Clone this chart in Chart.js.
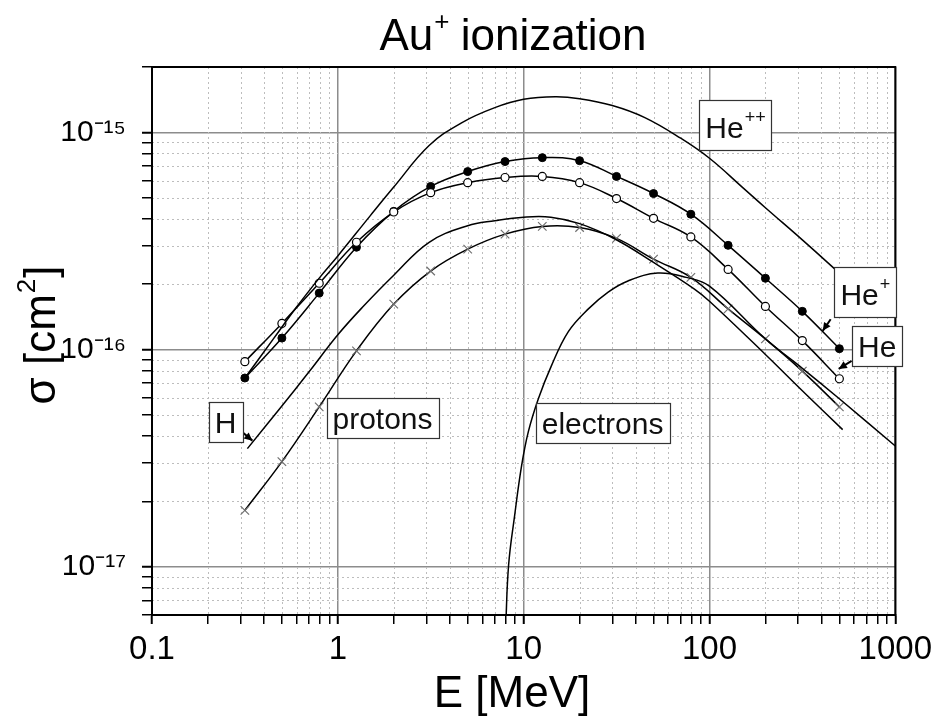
<!DOCTYPE html>
<html>
<head>
<meta charset="utf-8">
<title>Au+ ionization</title>
<script src="https://cdn.jsdelivr.net/npm/chart.js@4.4.1/dist/chart.umd.min.js"></script>
<style>
  html, body { margin: 0; padding: 0; background: #fff; }
</style>
</head>
<body>
<canvas id="chart" width="938" height="724"></canvas>
<script>
// energies (MeV) where the measured points sit
const energyGrid = [0.316, 0.5, 0.794, 1.26, 2, 3.16, 5, 7.94, 12.6, 20, 31.6, 50, 79.4, 126, 200, 316, 500];
const sigmaHePlus = [7.4e-17, 1.13e-16, 1.82e-16, 2.96e-16, 4.33e-16, 5.64e-16, 6.6e-16, 7.34e-16, 7.65e-16, 7.41e-16, 6.27e-16, 5.23e-16, 4.2e-16, 3.02e-16, 2.13e-16, 1.5e-16, 1.01e-16];
const sigmaHe = [8.8e-17, 1.32e-16, 2.02e-16, 3.12e-16, 4.3e-16, 5.28e-16, 5.87e-16, 6.2e-16, 6.27e-16, 5.87e-16, 4.96e-16, 4.02e-16, 3.3e-16, 2.34e-16, 1.58e-16, 1.1e-16, 7.34e-17];
const sigmaProtons = [1.82e-17, 3.05e-17, 5.45e-17, 9.87e-17, 1.62e-16, 2.3e-16, 2.9e-16, 3.4e-16, 3.69e-16, 3.65e-16, 3.25e-16, 2.61e-16, 2.15e-16, 1.54e-16, 1.12e-16, 7.96e-17, 5.45e-17];

// curves without markers
const energyH = [0.326, 0.5, 0.7, 1, 1.36, 2, 3.1, 5, 7, 10, 14, 20, 31, 50, 83, 100, 200, 316, 521];
const sigmaH = [3.5e-17, 5.5e-17, 7.9e-17, 1.17e-16, 1.57e-16, 2.2e-16, 3.12e-16, 3.72e-16, 3.92e-16, 4.07e-16, 4.07e-16, 3.8e-16, 3.23e-16, 2.52e-16, 1.9e-16, 1.67e-16, 9.5e-17, 6.47e-17, 4.28e-17];

const energyHe2 = [0.316, 0.45, 0.6, 0.8, 1, 1.5, 2, 3.1, 4.66, 7, 10, 14.8, 20, 30, 44.9, 70, 100, 150, 200, 316, 500];
const sigmaHe2 = [7.4e-17, 1.12e-16, 1.57e-16, 2.15e-16, 2.7e-16, 4.15e-16, 5.6e-16, 8.7e-16, 1.11e-15, 1.3e-15, 1.42e-15, 1.46e-15, 1.43e-15, 1.33e-15, 1.17e-15, 9.4e-16, 7.6e-16, 5.6e-16, 4.5e-16, 3.2e-16, 2.25e-16];

const energyElec = [8.0, 8.3, 8.95, 9.75, 10.6, 12, 14.1, 17.4, 22.3, 28.5, 36.4, 52.7, 75, 100, 200, 316, 500, 1000];
const sigmaElec = [5.2e-18, 1.02e-17, 1.73e-17, 2.92e-17, 4.19e-17, 5.94e-17, 8.42e-17, 1.21e-16, 1.54e-16, 1.84e-16, 2.07e-16, 2.25e-16, 2.15e-16, 1.96e-16, 1.12e-16, 8.2e-17, 5.94e-17, 3.6e-17];

// axis ticks
const xMajorTicks = [0.1, 1, 10, 100, 1000];
const xTickLabels = ['0.1', '1', '10', '100', '1000'];
const yMajorTicks = [1e-17, 1e-16, 1e-15];
const yTickLabels = ['10\u207B\u00B9\u2077', '10\u207B\u00B9\u2076', '10\u207B\u00B9\u2075'];

// curve labels, anchored in data coordinates (E, sigma)
const labelTexts = ['He', 'He', 'He', 'H', 'protons', 'electrons'];
const labelSups = ['++', '+', '', '', '', ''];
const labelE = [138, 690, 800, 0.249, 1.74, 26.6];
const labelSigma = [1.08e-15, 1.84e-16, 1.04e-16, 4.64e-17, 4.86e-17, 4.58e-17];
const arrowFrom = [[0.299, 4.24e-17], [449, 1.38e-16], [582, 8.87e-17]];
const arrowTo = [[0.347, 3.81e-17], [407, 1.22e-16], [496, 8.15e-17]];

const fontFam = "'Liberation Sans', Arial, Helvetica, sans-serif";

function toPoints(xs, ys) {
    return xs.map((x, i) => ({ x: x, y: ys[i] }));
}

function isDecade(v) {
    const l = Math.log10(v);
    return Math.abs(l - Math.round(l)) < 1e-6;
}

// all ticks 1..9 x 10^n between min and max
function logTicks(min, max) {
    const out = [];
    for (let e = Math.floor(Math.log10(min)); e <= Math.ceil(Math.log10(max)); e++) {
        for (let k = 1; k <= 9; k++) {
            const v = parseFloat((k * Math.pow(10, e)).toPrecision(6));
            if (v >= min * 0.9999 && v <= max * 1.0001) out.push(v);
        }
    }
    return out;
}

// text with an optional superscript part, returns nothing
function drawSupText(ctx, base, sup, x, y, size, supSize, rise, align) {
    ctx.font = size + 'px ' + fontFam;
    const wBase = ctx.measureText(base).width;
    ctx.font = supSize + 'px ' + fontFam;
    const wSup = sup ? ctx.measureText(sup).width + 1 : 0;
    const total = wBase + wSup;
    let x0 = x;
    if (align === 'center') x0 = x - total / 2;
    ctx.textAlign = 'left';
    ctx.textBaseline = 'alphabetic';
    ctx.font = size + 'px ' + fontFam;
    ctx.fillText(base, x0, y);
    if (sup) {
        ctx.font = supSize + 'px ' + fontFam;
        ctx.fillText(sup, x0 + wBase + 1, y - rise);
    }
}

const decorPlugin = {
    id: 'decor',
    beforeDatasetsDraw(chart) {
        // dotted minor grid
        const { ctx, chartArea: a, scales } = chart;
        ctx.save();
        ctx.strokeStyle = '#bdbdbd';
        ctx.lineWidth = 1;
        ctx.setLineDash([2, 3]);
        logTicks(0.1, 1000).filter(v => !isDecade(v)).forEach(v => {
            const px = Math.round(scales.x.getPixelForValue(v)) + 0.5;
            ctx.beginPath(); ctx.moveTo(px, a.top); ctx.lineTo(px, a.bottom); ctx.stroke();
        });
        logTicks(6e-18, 2e-15).filter(v => !isDecade(v)).forEach(v => {
            const py = Math.round(scales.y.getPixelForValue(v)) + 0.5;
            ctx.beginPath(); ctx.moveTo(a.left, py); ctx.lineTo(a.right, py); ctx.stroke();
        });
        ctx.restore();
    },
    afterDatasetsDraw(chart) {
        const { ctx, chartArea: a, scales } = chart;
        ctx.save();
        // frame
        ctx.strokeStyle = '#000';
        ctx.lineWidth = 2;
        ctx.strokeRect(a.left, a.top, a.right - a.left, a.bottom - a.top);

        // arrows from boxes to curves
        arrowFrom.forEach((f, i) => {
            const x1 = scales.x.getPixelForValue(f[0]), y1 = scales.y.getPixelForValue(f[1]);
            const x2 = scales.x.getPixelForValue(arrowTo[i][0]), y2 = scales.y.getPixelForValue(arrowTo[i][1]);
            const ang = Math.atan2(y2 - y1, x2 - x1);
            ctx.strokeStyle = '#000';
            ctx.lineWidth = 2;
            ctx.beginPath(); ctx.moveTo(x1, y1); ctx.lineTo(x2, y2); ctx.stroke();
            ctx.fillStyle = '#000';
            ctx.beginPath();
            ctx.moveTo(x2, y2);
            ctx.lineTo(x2 - 9 * Math.cos(ang - 0.45), y2 - 9 * Math.sin(ang - 0.45));
            ctx.lineTo(x2 - 9 * Math.cos(ang + 0.45), y2 - 9 * Math.sin(ang + 0.45));
            ctx.closePath(); ctx.fill();
        });

        // labelled boxes
        labelTexts.forEach((t, i) => {
            const cx = scales.x.getPixelForValue(labelE[i]);
            const cy = scales.y.getPixelForValue(labelSigma[i]);
            const sup = labelSups[i];
            const size = 30;
            ctx.font = size + 'px ' + fontFam;
            let w = ctx.measureText(t).width;
            if (sup) {
                ctx.font = '18px ' + fontFam;
                w += ctx.measureText(sup).width + 1;
            }
            const bw = Math.round(w + 12);
            const bh = sup ? 50 : 40;
            const left = Math.round(cx - bw / 2), top = Math.round(cy - bh / 2);
            ctx.fillStyle = '#fff';
            ctx.fillRect(left, top, bw, bh);
            ctx.strokeStyle = '#333';
            ctx.lineWidth = 1.2;
            ctx.strokeRect(left + 0.5, top + 0.5, bw, bh);
            ctx.fillStyle = '#111';
            drawSupText(ctx, t, sup, cx, top + bh - (sup ? 12 : 9), size, 18, 15, 'center');
        });
        ctx.restore();
    }
};

// chart title and axis titles
const titlePlugin = {
    id: 'titles',
    afterDraw(chart) {
        const ctx = chart.ctx;
        ctx.save();
        ctx.fillStyle = '#000';
        ctx.textBaseline = 'alphabetic';
        ctx.textAlign = 'left';
        ctx.font = '44px ' + fontFam;
        const w1 = ctx.measureText('Au').width;
        const w3 = ctx.measureText(' ionization').width;
        ctx.font = '26px ' + fontFam;
        const w2 = ctx.measureText('+').width;
        const x0 = 513 - (w1 + w2 + w3) / 2;
        ctx.font = '44px ' + fontFam;
        ctx.fillText('Au', x0, 50);
        ctx.font = '26px ' + fontFam;
        ctx.fillText('+', x0 + w1 + 1, 30);
        ctx.font = '44px ' + fontFam;
        ctx.fillText(' ionization', x0 + w1 + w2, 50);

        // x axis title
        ctx.textAlign = 'center';
        ctx.fillText('E [MeV]', 512, 707);

        // y axis title, rotated
        ctx.translate(55, 336);
        ctx.rotate(-Math.PI / 2);
        ctx.textAlign = 'left';
        ctx.font = '44px ' + fontFam;
        const wa = ctx.measureText('\u03C3 [cm').width;
        const wc = ctx.measureText(']').width;
        ctx.font = '26px ' + fontFam;
        const wb = ctx.measureText('2').width;
        const s0 = -(wa + wb + wc) / 2;
        ctx.font = '44px ' + fontFam;
        ctx.fillText('\u03C3 [cm', s0, 0);
        ctx.font = '26px ' + fontFam;
        ctx.fillText('2', s0 + wa + 1, -20);
        ctx.font = '44px ' + fontFam;
        ctx.fillText(']', s0 + wa + wb + 2, 0);
        ctx.restore();
    }
};

const lineStyle = {
    showLine: true,
    borderColor: '#000',
    borderWidth: 1.5,
    tension: 0.4,
    fill: false
};

new Chart(document.getElementById('chart').getContext('2d'), {
    type: 'scatter',
    data: {
        datasets: [
            Object.assign({ label: 'He++', data: toPoints(energyHe2, sigmaHe2), pointRadius: 0 }, lineStyle),
            Object.assign({ label: 'H', data: toPoints(energyH, sigmaH), pointRadius: 0 }, lineStyle),
            Object.assign({ label: 'electrons', data: toPoints(energyElec, sigmaElec), pointRadius: 0 }, lineStyle),
            Object.assign({ label: 'protons', data: toPoints(energyGrid, sigmaProtons),
                pointStyle: 'crossRot', pointRadius: 6, pointBorderColor: '#707070', pointBorderWidth: 1.2 }, lineStyle),
            Object.assign({ label: 'He', data: toPoints(energyGrid, sigmaHe),
                pointStyle: 'circle', pointRadius: 4, pointBackgroundColor: '#fff', pointBorderColor: '#000', pointBorderWidth: 1.2 }, lineStyle),
            Object.assign({ label: 'He+', data: toPoints(energyGrid, sigmaHePlus),
                pointStyle: 'circle', pointRadius: 4, pointBackgroundColor: '#000', pointBorderColor: '#000', pointBorderWidth: 1 }, lineStyle)
        ]
    },
    options: {
        responsive: false,
        animation: false,
        devicePixelRatio: 1,
        layout: { padding: { top: 67, right: 38, left: 0, bottom: 0 } },
        plugins: {
            legend: { display: false },
            tooltip: { enabled: false },
            title: { display: false }
        },
        scales: {
            x: {
                type: 'logarithmic',
                min: 0.1,
                max: 1000,
                afterBuildTicks: s => { s.ticks = logTicks(0.1, 1000).map(v => ({ value: v })); },
                afterFit: s => { s.height = 109; },
                border: { color: '#000', width: 2 },
                grid: {
                    color: c => isDecade(c.tick.value) ? '#8c8c8c' : 'rgba(0,0,0,0)',
                    lineWidth: 1.5,
                    tickColor: '#000',
                    tickLength: 9,
                    tickWidth: c => isDecade(c.tick.value) ? 2 : 1.5
                },
                ticks: {
                    autoSkip: false,
                    maxRotation: 0,
                    padding: 6,
                    color: '#000',
                    font: { family: fontFam, size: 33 },
                    callback: v => {
                        const i = xMajorTicks.findIndex(m => Math.abs(Math.log10(m) - Math.log10(v)) < 1e-6);
                        return i >= 0 ? xTickLabels[i] : '';
                    }
                }
            },
            y: {
                type: 'logarithmic',
                min: 6e-18,
                max: 2e-15,
                afterBuildTicks: s => { s.ticks = logTicks(6e-18, 2e-15).map(v => ({ value: v })); },
                afterFit: s => { s.width = 152; },
                border: { color: '#000', width: 2 },
                grid: {
                    color: c => isDecade(c.tick.value) ? '#8c8c8c' : 'rgba(0,0,0,0)',
                    lineWidth: 1.5,
                    tickColor: '#000',
                    tickLength: 10,
                    tickWidth: c => isDecade(c.tick.value) ? 2 : 1.5
                },
                ticks: {
                    autoSkip: false,
                    padding: 16,
                    color: '#000',
                    font: { family: fontFam, size: 30 },
                    callback: v => {
                        const i = yMajorTicks.findIndex(m => Math.abs(Math.log10(m) - Math.log10(v)) < 1e-6);
                        return i >= 0 ? yTickLabels[i] : '';
                    }
                }
            }
        }
    },
    plugins: [decorPlugin, titlePlugin]
});
</script>
</body>
</html>
